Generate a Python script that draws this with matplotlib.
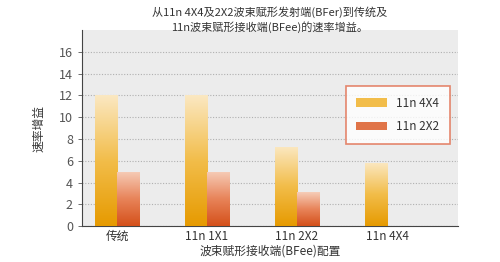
import numpy as np
import matplotlib
matplotlib.use("Agg")
import matplotlib.pyplot as plt
from matplotlib.colors import LinearSegmentedColormap
from matplotlib.patches import Patch

plt.rcParams['font.family'] = ['Noto Sans CJK SC', 'DejaVu Sans']

# data
categories = ['传统', '11n 1X1', '11n 2X2', '11n 4X4']
gain_4x4 = [12.0, 12.0, 7.3, 5.8]
gain_2x2 = [5.0, 5.0, 3.1, np.nan]
series = ['11n 4X4', '11n 2X2']

# gradient colormaps (bottom -> top)
cmap_4x4 = LinearSegmentedColormap.from_list('c44', ['#e69a00', '#f2bd4a', '#fbe8c2'])
cmap_2x2 = LinearSegmentedColormap.from_list('c22', ['#d4501a', '#e8845a', '#f6cdb8'])

fig = plt.figure(figsize=(5.0, 2.62), dpi=100)
ax = fig.add_axes([0.164, 0.137, 0.752, 0.748])
ax.set_facecolor('#ececec')

x = np.arange(len(categories))
w = 0.245


def gradient_bars(xpos, vals, cmap):
    bars = ax.bar(xpos, vals, w, color='none', edgecolor='none', zorder=3)
    grad = np.linspace(0, 1, 256).reshape(-1, 1)
    for b in bars:
        h = b.get_height()
        if not np.isfinite(h) or h <= 0:
            continue
        x0 = b.get_x()
        im = ax.imshow(grad, cmap=cmap, origin='lower', aspect='auto',
                       extent=[x0, x0 + b.get_width(), 0, h], zorder=3)
        im.set_clip_path(b)
    return bars


gradient_bars(x - w / 2, gain_4x4, cmap_4x4)
gradient_bars(x + w / 2, gain_2x2, cmap_2x2)

ax.set_xlim(-0.39, 3.79)
ax.set_ylim(0, 18)
ax.set_yticks(range(0, 17, 2))
ax.set_xticks(x)
ax.set_xticklabels(categories, fontsize=8.5, color='#333333', fontweight='medium')
ax.tick_params(axis='y', labelsize=9, colors='#555555', length=3, width=0.6)
ax.tick_params(axis='x', length=0, pad=3)
ax.yaxis.grid(True, linestyle=(0, (1, 1.5)), color='#b0b0b0', linewidth=0.8)
ax.set_axisbelow(True)

for s in ['top', 'right']:
    ax.spines[s].set_visible(False)
ax.spines['left'].set_color('#444444')
ax.spines['bottom'].set_color('#444444')
ax.spines['left'].set_linewidth(0.8)
ax.spines['bottom'].set_linewidth(0.8)

ax.set_ylabel('速率增益', fontsize=8.5, color='#333333', labelpad=10, fontweight='medium')
ax.set_xlabel('波束赋形接收端(BFee)配置', fontsize=8.5, color='#333333', labelpad=1,
              fontweight='medium')

handles = [Patch(facecolor='#f2bd4a', edgecolor='none'),
           Patch(facecolor='#e07448', edgecolor='none')]
leg = ax.legend(handles, series, loc='upper right', bbox_to_anchor=(0.995, 0.745),
                fontsize=8.5, frameon=True, fancybox=False, handlelength=2.6,
                handleheight=0.7, labelspacing=0.9, borderpad=0.9,
                labelcolor='#333333')
leg.get_frame().set_edgecolor('#e06a4a')
leg.get_frame().set_linewidth(1.2)
leg.get_frame().set_facecolor('white')
leg.set_zorder(5)

fig.text(0.54, 0.975, '从11n 4X4及2X2波束赋形发射端(BFer)到传统及\n11n波束赋形接收端(BFee)的速率增益。',
         ha='center', va='top', fontsize=8, color='#333333', linespacing=1.35,
         fontweight='medium')

fig.savefig('out.png', dpi=100)
